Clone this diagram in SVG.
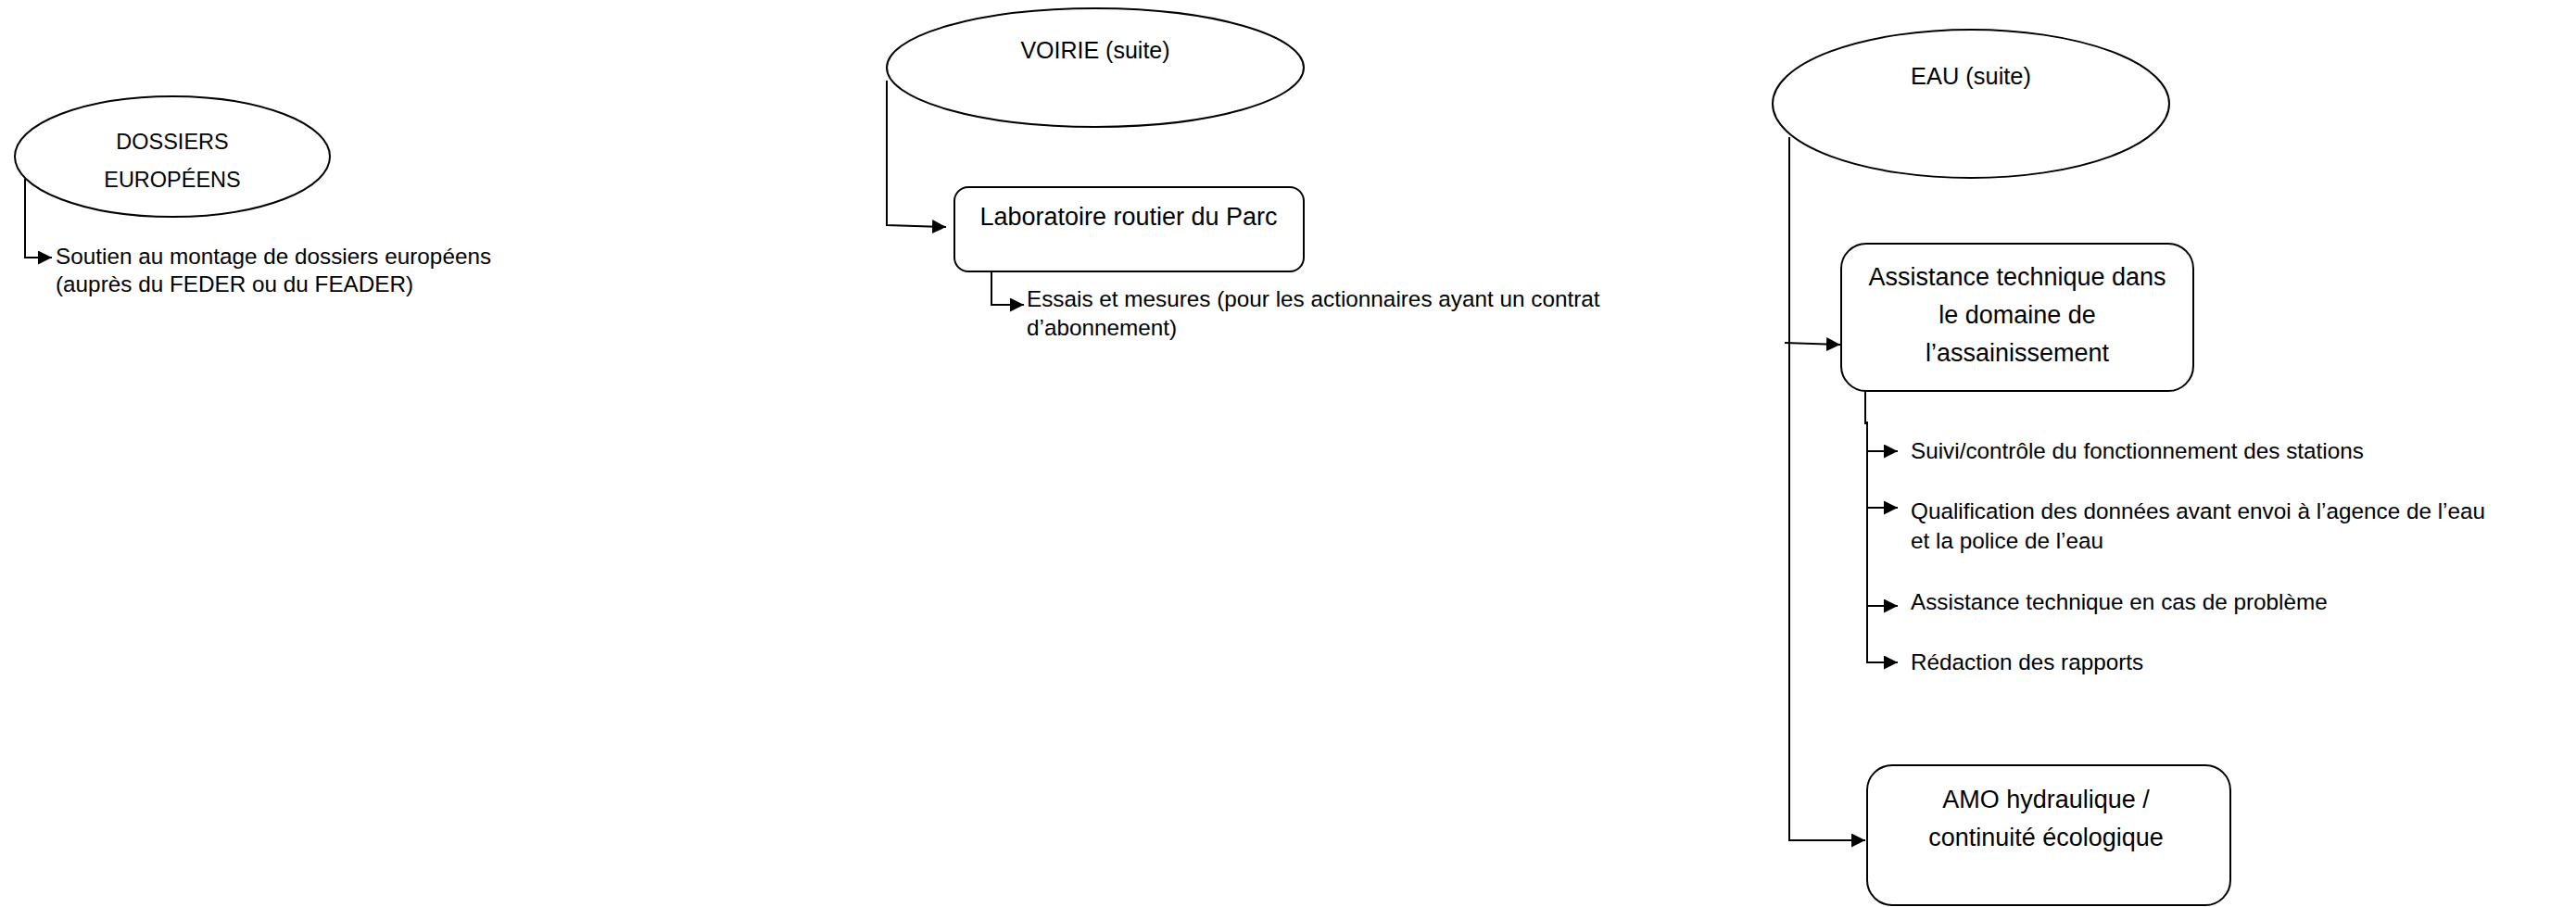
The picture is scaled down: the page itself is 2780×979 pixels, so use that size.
<svg xmlns="http://www.w3.org/2000/svg" width="2780" height="979" viewBox="0 0 2780 979">
<style>
  .shape { fill: #ffffff; stroke: #000000; stroke-width: 2; }
  .conn { fill: none; stroke: #000000; stroke-width: 2; }
  text { font-family: "Liberation Sans", Arial, sans-serif; fill: #000000; }
  .body { font-size: 24.3px; }
  .box { font-size: 27px; text-anchor: middle; }
  .ell { text-anchor: middle; }
</style>
<defs>
  <marker id="arrow" markerUnits="userSpaceOnUse" markerWidth="16" markerHeight="16" refX="15" refY="7.5" orient="auto">
    <path d="M0,0 L15,7.5 L0,15 z" fill="#000000"/>
  </marker>
</defs>
<rect x="0" y="0" width="2780" height="979" fill="#ffffff"/>

<g id="connectors">
  <path class="conn" d="M27,193 V278 H56" marker-end="url(#arrow)"/>
  <path class="conn" d="M957,87 V243 L1021,245" marker-end="url(#arrow)"/>
  <path class="conn" d="M1070,293 V329 H1105" marker-end="url(#arrow)"/>
  <path class="conn" d="M1931,148 V907 H2013" marker-end="url(#arrow)"/>
  <path class="conn" d="M1926,370 L1986,372" marker-end="url(#arrow)"/>
  <path class="conn" d="M2013,422 V458"/>
  <path class="conn" d="M2015,455 V715 H2048" marker-end="url(#arrow)"/>
  <path class="conn" d="M2015,487 H2048" marker-end="url(#arrow)"/>
  <path class="conn" d="M2015,548 H2048" marker-end="url(#arrow)"/>
  <path class="conn" d="M2015,654 H2048" marker-end="url(#arrow)"/>
</g>

<g id="dossiers-europeens">
  <ellipse class="shape" cx="186" cy="169" rx="170" ry="65"/>
  <text class="ell" x="186" y="161" font-size="23.5">DOSSIERS</text>
  <text class="ell" x="186" y="202" font-size="23.5">EUROPÉENS</text>
</g>
<g id="soutien-dossiers">
  <text class="body" x="60" y="285">Soutien au montage de dossiers européens</text>
  <text class="body" x="60" y="315">(auprès du FEDER ou du FEADER)</text>
</g>

<g id="voirie-suite">
  <ellipse class="shape" cx="1182" cy="73" rx="225" ry="64"/>
  <text class="ell" x="1182" y="63" font-size="25">VOIRIE (suite)</text>
</g>
<g id="laboratoire-routier">
  <rect class="shape" x="1030" y="202" width="377" height="91" rx="15" ry="15"/>
  <text class="box" x="1218" y="243">Laboratoire routier du Parc</text>
</g>
<g id="essais-mesures">
  <text class="body" x="1108" y="331">Essais et mesures (pour les actionnaires ayant un contrat</text>
  <text class="body" x="1108" y="362">d’abonnement)</text>
</g>

<g id="eau-suite">
  <ellipse class="shape" cx="2127" cy="112" rx="214" ry="80"/>
  <text class="ell" x="2127" y="91" font-size="25.4">EAU (suite)</text>
</g>
<g id="assistance-assainissement">
  <rect class="shape" x="1987" y="263" width="380" height="159" rx="27" ry="27"/>
  <text class="box" x="2177" y="308">Assistance technique dans</text>
  <text class="box" x="2177" y="349">le domaine de</text>
  <text class="box" x="2177" y="390">l’assainissement</text>
</g>
<g id="suivi-controle">
  <text class="body" x="2062" y="495">Suivi/contrôle du fonctionnement des stations</text>
</g>
<g id="qualification-donnees">
  <text class="body" x="2062" y="560">Qualification des données avant envoi à l’agence de l’eau</text>
  <text class="body" x="2062" y="592">et la police de l’eau</text>
</g>
<g id="assistance-probleme">
  <text class="body" x="2062" y="658">Assistance technique en cas de problème</text>
</g>
<g id="redaction-rapports">
  <text class="body" x="2062" y="723">Rédaction des rapports</text>
</g>
<g id="amo-hydraulique">
  <rect class="shape" x="2015" y="826" width="392" height="151" rx="27" ry="27"/>
  <text class="box" x="2208" y="872">AMO hydraulique /</text>
  <text class="box" x="2208" y="913">continuité écologique</text>
</g>
</svg>
